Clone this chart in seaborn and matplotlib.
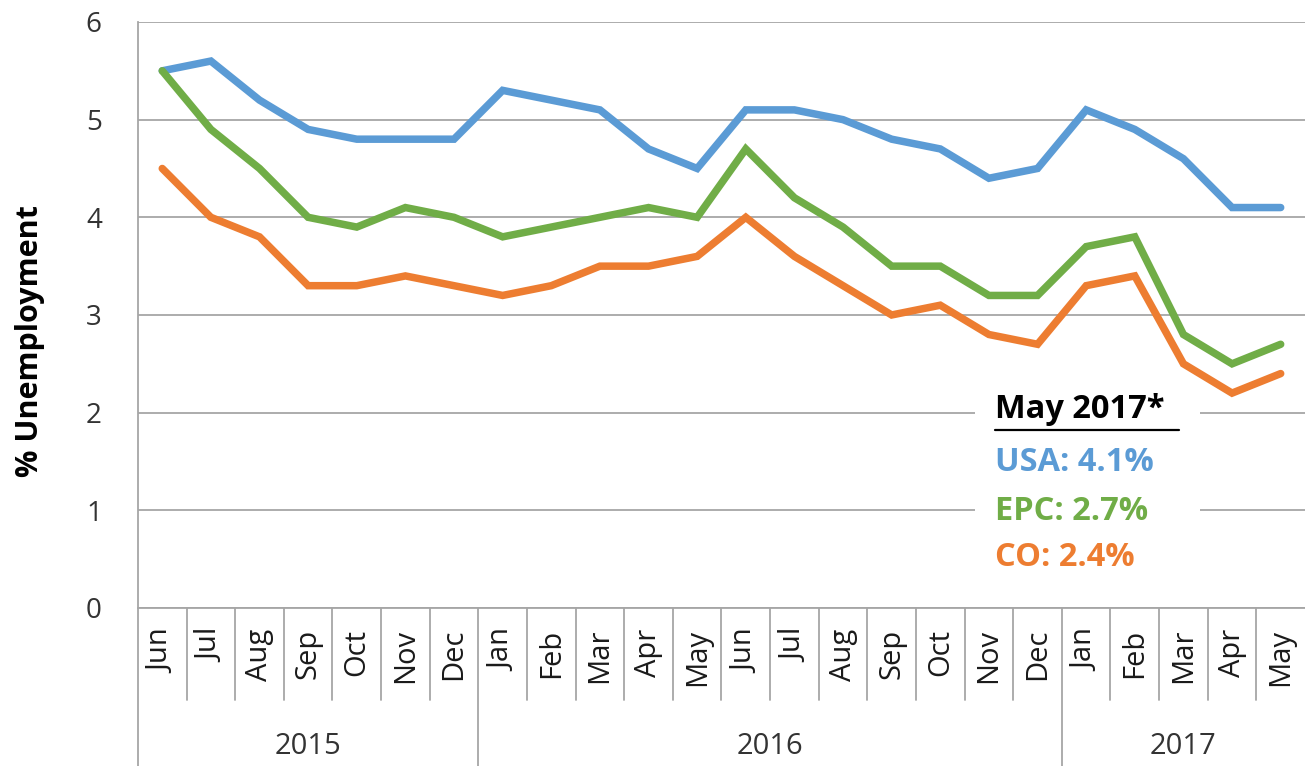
import pandas as pd
import seaborn as sns
import matplotlib.pyplot as plt
from matplotlib.patches import Rectangle

# Monthly unemployment, Jun 2015 - May 2017
months = ['Jun', 'Jul', 'Aug', 'Sep', 'Oct', 'Nov', 'Dec',
          'Jan', 'Feb', 'Mar', 'Apr', 'May', 'Jun', 'Jul', 'Aug', 'Sep', 'Oct', 'Nov', 'Dec',
          'Jan', 'Feb', 'Mar', 'Apr', 'May']
years = ['2015', '2016', '2017']
year_counts = [7, 12, 5]

usa = [5.5, 5.6, 5.2, 4.9, 4.8, 4.8, 4.8, 5.3, 5.2, 5.1, 4.7, 4.5,
       5.1, 5.1, 5.0, 4.8, 4.7, 4.4, 4.5, 5.1, 4.9, 4.6, 4.1, 4.1]
epc = [5.5, 4.9, 4.5, 4.0, 3.9, 4.1, 4.0, 3.8, 3.9, 4.0, 4.1, 4.0,
       4.7, 4.2, 3.9, 3.5, 3.5, 3.2, 3.2, 3.7, 3.8, 2.8, 2.5, 2.7]
co = [4.5, 4.0, 3.8, 3.3, 3.3, 3.4, 3.3, 3.2, 3.3, 3.5, 3.5, 3.6,
      4.0, 3.6, 3.3, 3.0, 3.1, 2.8, 2.7, 3.3, 3.4, 2.5, 2.2, 2.4]

series = {'USA': usa, 'EPC': epc, 'CO': co}
colors = {'USA': '#5B9BD5', 'EPC': '#70AD47', 'CO': '#ED7D31'}

df = pd.concat([pd.DataFrame({'idx': range(len(months)), 'rate': v, 'region': k})
                for k, v in series.items()], ignore_index=True)

sns.set_style('white')
plt.rcParams['font.family'] = ['Open Sans', 'DejaVu Sans']

fig = plt.figure(figsize=(13.05, 7.66), dpi=100)
ax = fig.add_axes([0.1057, 0.2063, 0.8943, 0.7650])

grid_c = '#A6A6A6'
ax.set_axisbelow(True)
ax.yaxis.grid(True, color=grid_c, linewidth=1.3)

sns.lineplot(data=df, x='idx', y='rate', hue='region', palette=colors,
             linewidth=5.4, legend=False, ax=ax, zorder=3,
             solid_capstyle='round', solid_joinstyle='miter')

ax.set_xlim(-0.5, len(months) - 0.5)
ax.set_ylim(0, 6)
ax.set_yticks(range(7))
ax.set_xticks(range(len(months)))
ax.set_xticklabels(months, rotation=90, fontsize=21, color='#1a1a1a')
ax.tick_params(axis='x', length=0, pad=15)
ax.tick_params(axis='y', length=10, width=1.3, color=grid_c, pad=16,
               labelsize=20, labelcolor='#333333')
ax.set_xlabel('')
ax.set_ylabel('')
for s in ['top', 'right', 'bottom']:
    ax.spines[s].set_visible(False)
ax.spines['left'].set_color(grid_c)
ax.spines['left'].set_linewidth(1.3)

# multi-level category axis separators
tr = ax.get_xaxis_transform()
ax.plot([-0.5, len(months) - 0.5], [0, 0], color=grid_c, lw=1.3, transform=tr, clip_on=False)
ax.plot([-0.5, -0.5], [0, -0.28], color=grid_c, lw=1.3, transform=tr, clip_on=False)
bounds = [-0.5]
for c in year_counts:
    bounds.append(bounds[-1] + c)
for i in range(1, len(months)):
    x = i - 0.5
    bottom = -0.28 if x in bounds else -0.157
    ax.plot([x, x], [0, bottom], color=grid_c, lw=1.3, transform=tr, clip_on=False)
for yr, a, b in zip(years, bounds[:-1], bounds[1:]):
    ax.text((a + b) / 2, -0.236, yr, transform=tr, ha='center', va='center',
            fontsize=21, color='#333333')

fig.text(0.023, 0.555, '% Unemployment', rotation=90, ha='center', va='center',
         fontsize=22, fontweight='bold', color='black')

# May 2017 callout
ax.add_patch(Rectangle((16.72, 0.29), 4.63, 1.94, facecolor='white',
                       edgecolor='none', zorder=1))
ax.text(17.13, 2.03, 'May 2017*', fontsize=23.5, fontweight='bold', color='black',
        va='center', zorder=4)
ax.plot([17.13, 20.9], [1.82, 1.82], color='black', lw=1.6, zorder=4)
for (k, v), yy in zip(series.items(), [1.49, 0.99, 0.52]):
    ax.text(17.13, yy, f'{k}: {v[-1]}%', fontsize=23.5, fontweight='bold',
            color=colors[k], va='center', zorder=4)

plt.savefig('out.png', dpi=100)
